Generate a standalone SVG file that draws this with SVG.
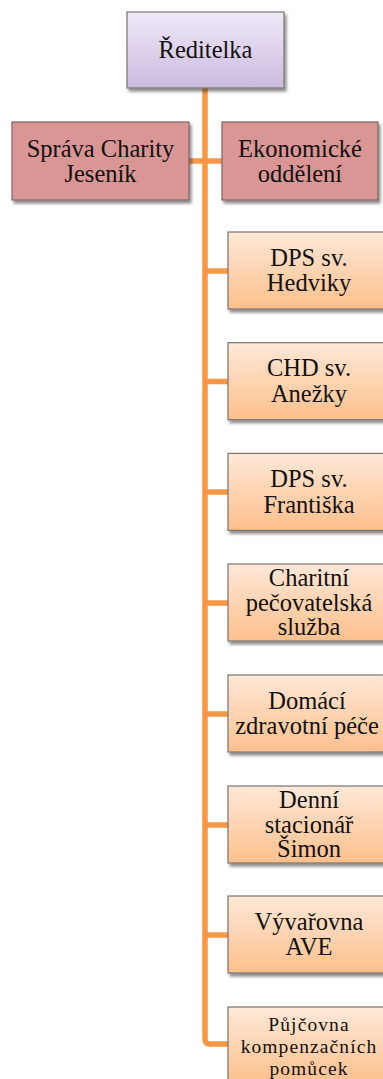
<svg xmlns="http://www.w3.org/2000/svg" width="383" height="1079" viewBox="0 0 383 1079">
<defs>
<linearGradient id="gP" x1="0" y1="0" x2="0" y2="1"><stop offset="0" stop-color="#EFE9F7"/><stop offset="1" stop-color="#CBBAE0"/></linearGradient>
<linearGradient id="gO" x1="0" y1="0" x2="0" y2="1"><stop offset="0" stop-color="#FFE8D8"/><stop offset="1" stop-color="#FDC08C"/></linearGradient>
<filter id="sh" x="-10%" y="-10%" width="130%" height="130%"><feGaussianBlur in="SourceAlpha" stdDeviation="1.6"/><feOffset dx="1.5" dy="2.5" result="b"/><feComponentTransfer><feFuncA type="linear" slope="0.45"/></feComponentTransfer><feMerge><feMergeNode/><feMergeNode in="SourceGraphic"/></feMerge></filter>
</defs>
<style>
.box{stroke:#7A7470;stroke-width:1.2;filter:url(#sh)}
.p{fill:url(#gP)}
.r{fill:#D99694;stroke:#7E6464}
.o{fill:url(#gO)}
text{font-family:"Liberation Serif","Times New Roman",serif;font-size:24.5px;fill:#111;text-anchor:middle}
.sm{font-size:19.5px;letter-spacing:1.1px}
.c{fill:none;stroke:#F79646;stroke-width:5.5;stroke-linejoin:round}
</style>
<g id="connectors">
<path class="c" d="M205 88 V1039 Q205 1044 210 1044 H228"/>
<path class="c" d="M189 161 H222"/>
<path class="c" d="M205 271 H228 M205 381.5 H228 M205 492 H228 M205 603 H228 M205 714 H228 M205 825 H228 M205 935 H228"/>
</g>
<g id="n-reditelka"><rect class="box p" x="127" y="12" width="157" height="76"/><text x="205.5" y="57.5">Ředitelka</text></g>
<g id="n-sprava"><rect class="box r" x="12" y="122" width="177" height="78"/><text x="100.5" y="156.5">Správa Charity</text><text x="100.5" y="181.5">Jeseník</text></g>
<g id="n-ekonom"><rect class="box r" x="222" y="122" width="156" height="78"/><text x="300" y="156.5">Ekonomické</text><text x="300" y="181.5">oddělení</text></g>
<g id="n-hedviky"><rect class="box o" x="228" y="232" width="162" height="77"/><text x="309" y="265.5">DPS sv.</text><text x="309" y="291">Hedviky</text></g>
<g id="n-anezky"><rect class="box o" x="228" y="342.7" width="162" height="77"/><text x="309" y="376">CHD sv.</text><text x="309" y="401.5">Anežky</text></g>
<g id="n-frantiska"><rect class="box o" x="228" y="453.4" width="162" height="77"/><text x="309" y="487">DPS sv.</text><text x="309" y="512.5">Františka</text></g>
<g id="n-charitni"><rect class="box o" x="228" y="564" width="162" height="77"/><text x="309" y="585.7">Charitní</text><text x="309" y="610.5">pečovatelská</text><text x="309" y="635">služba</text></g>
<g id="n-domaci"><rect class="box o" x="228" y="675" width="162" height="77"/><text x="307" y="708.5">Domácí</text><text x="307" y="734">zdravotní péče</text></g>
<g id="n-denni"><rect class="box o" x="228" y="786" width="162" height="77"/><text x="309" y="808">Denní</text><text x="309" y="832.5">stacionář</text><text x="309" y="857">Šimon</text></g>
<g id="n-vyvarovna"><rect class="box o" x="228" y="896" width="162" height="77"/><text x="309" y="929.5">Vývařovna</text><text x="309" y="955">AVE</text></g>
<g id="n-pujcovna"><rect class="box o" x="228" y="1007" width="162" height="77"/><text class="sm" x="309" y="1030.5">Půjčovna</text><text class="sm" x="309" y="1052.5">kompenzačních</text><text class="sm" x="309" y="1074.5">pomůcek</text></g>
</svg>
